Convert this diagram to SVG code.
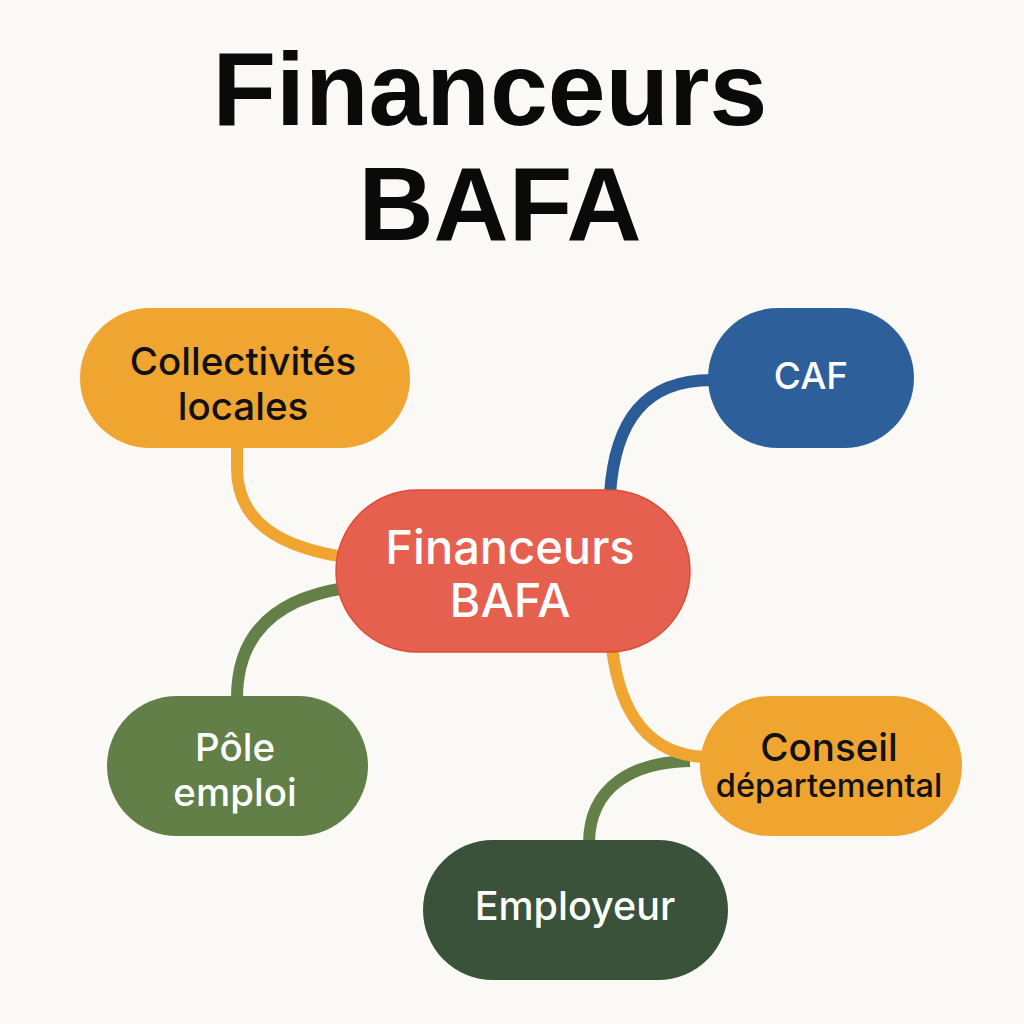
<svg xmlns="http://www.w3.org/2000/svg" width="1024" height="1024" viewBox="0 0 1024 1024">
<style>
.t{font-family:"Liberation Sans",Arial,sans-serif;text-anchor:middle}
.n{font-family:Inter,"Liberation Sans",Arial,sans-serif;font-weight:500;text-anchor:middle}
.title{font-size:104px;font-weight:bold;fill:#0a0a0a}
.lbl{font-size:38.5px}
.w{fill:#ffffff}
.k{fill:#111111}
.c{fill:none;stroke-width:12;stroke-linecap:butt}
</style>
<rect width="1024" height="1024" fill="#FAF9F5"/>
<text class="t title" x="490" y="125">Financeurs</text>
<text class="t title" x="500" y="240">BAFA</text>
<g id="connectors">
<path class="c" stroke="#EFA52F" d="M237,446 L237,468 C237,525 285,548 345,557"/>
<path class="c" stroke="#628048" d="M345,588 C280,598 237,630 237,698"/>
<path class="c" stroke="#2B5C98" d="M610,494 C615,420 645,380 712,380"/>
<path class="c" stroke="#628048" d="M690,761 C635,762 589,785 589,844"/>
<path class="c" stroke="#EFA52F" d="M612,648 C620,715 650,755 705,757"/>
</g>
<g id="center">
<rect x="336" y="490" width="354" height="162" rx="81" fill="#E5604F" stroke="#E04A38" stroke-width="1.5"/>
<text class="n w" x="510" y="564" font-size="47">Financeurs</text>
<text class="n w" x="510" y="617" font-size="47">BAFA</text>
</g>
<g id="collectivites">
<rect x="80" y="308" width="330" height="140" rx="70" fill="#EFA52F"/>
<text class="n k lbl" x="243" y="375">Collectivités</text>
<text class="n k lbl" x="243" y="420">locales</text>
</g>
<g id="caf">
<rect x="708" y="308" width="206" height="140" rx="70" fill="#2D5F9A"/>
<text class="n w" x="811" y="389" font-size="37">CAF</text>
</g>
<g id="pole-emploi">
<rect x="107" y="696" width="261" height="140" rx="70" fill="#617F46"/>
<text class="n w lbl" x="235" y="761">Pôle</text>
<text class="n w lbl" x="235" y="806">emploi</text>
</g>
<g id="conseil">
<rect x="700" y="696" width="262" height="140" rx="70" fill="#EFA52F"/>
<text class="n k" x="829" y="761" font-size="38.5">Conseil</text>
<text class="n k" x="829" y="797" font-size="32.5">départemental</text>
</g>
<g id="employeur">
<rect x="423" y="840" width="305" height="140" rx="70" fill="#3A5239"/>
<text class="n w" x="575" y="920" font-size="39.5">Employeur</text>
</g>
</svg>
